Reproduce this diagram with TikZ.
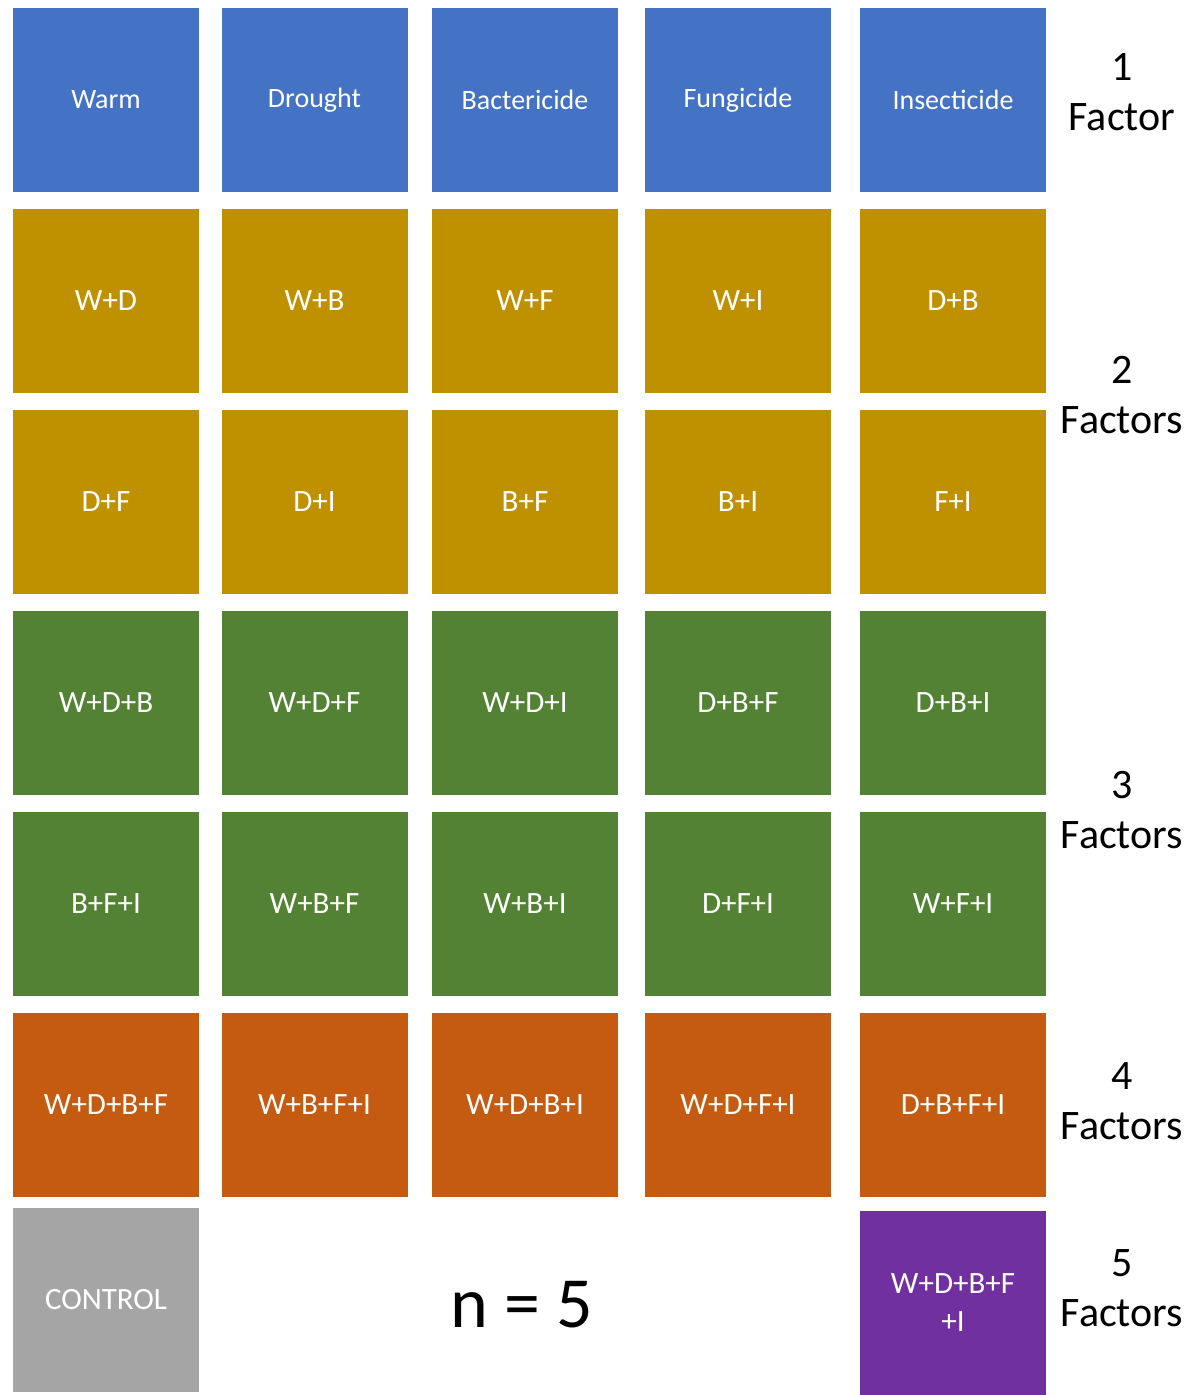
\documentclass[tikz,border=0pt]{standalone}
\usepackage{fontspec}
\setmainfont{Carlito}
\definecolor{cblue}{HTML}{4472C4}
\definecolor{cgold}{HTML}{BF9000}
\definecolor{cgreen}{HTML}{548235}
\definecolor{corange}{HTML}{C55A11}
\definecolor{cgray}{HTML}{A5A5A5}
\definecolor{cpurple}{HTML}{7030A0}
\begin{document}
\begin{tikzpicture}[x=1pt,y=-1pt,
  cell/.style={minimum width=186pt,minimum height=184pt,inner sep=0pt,text=white,font=\fontsize{31}{34}\selectfont,align=center},
  lab/.style={font=\fontsize{42}{50}\selectfont,align=center}]
\useasboundingbox (0,0) rectangle (1200,1395);
\def\xs{{106,314.5,525,738,953}}
\def\ys{{100,301,502,703,904,1105}}
\foreach \r/\col/\txt in {0/cblue/{Warm,Drought,Bactericide,Fungicide,Insecticide},
  1/cgold/{W+D,W+B,W+F,W+I,D+B},
  2/cgold/{D+F,D+I,B+F,B+I,F+I},
  3/cgreen/{W+D+B,W+D+F,W+D+I,D+B+F,D+B+I},
  4/cgreen/{B+F+I,W+B+F,W+B+I,D+F+I,W+F+I},
  5/corange/{W+D+B+F,W+B+F+I,W+D+B+I,W+D+F+I,D+B+F+I}}{
  \foreach \t [count=\c from 0] in \txt {
    \pgfmathsetmacro\xx{\xs[\c]}\pgfmathsetmacro\yy{\ys[\r]}
    \ifnum\r=0
      \node[cell,fill=\col,font=\fontsize{28}{32}\selectfont] (c\r\c) at (\xx,\yy) {\t};
    \else
      \node[cell,fill=\col] (c\r\c) at (\xx,\yy) {\t};
    \fi
  }}
\node[cell,fill=cgray] (ctrl) at (106,1300) {CONTROL};
\node[cell,fill=cpurple,minimum height=184pt] (all) at (953,1303) {W+D+B+F\\[4pt]+I};
\node[font=\fontsize{72}{80}\selectfont] (n) at (522,1305) {n = 5};
\node[lab] (l1) at (1122,92) {1\\Factor};
\node[lab] (l2) at (1122,395) {2\\Factors};
\node[lab] (l3) at (1122,810) {3\\Factors};
\node[lab] (l4) at (1122,1101) {4\\Factors};
\node[lab] (l5) at (1122,1288) {5\\Factors};
\end{tikzpicture}
\end{document}
